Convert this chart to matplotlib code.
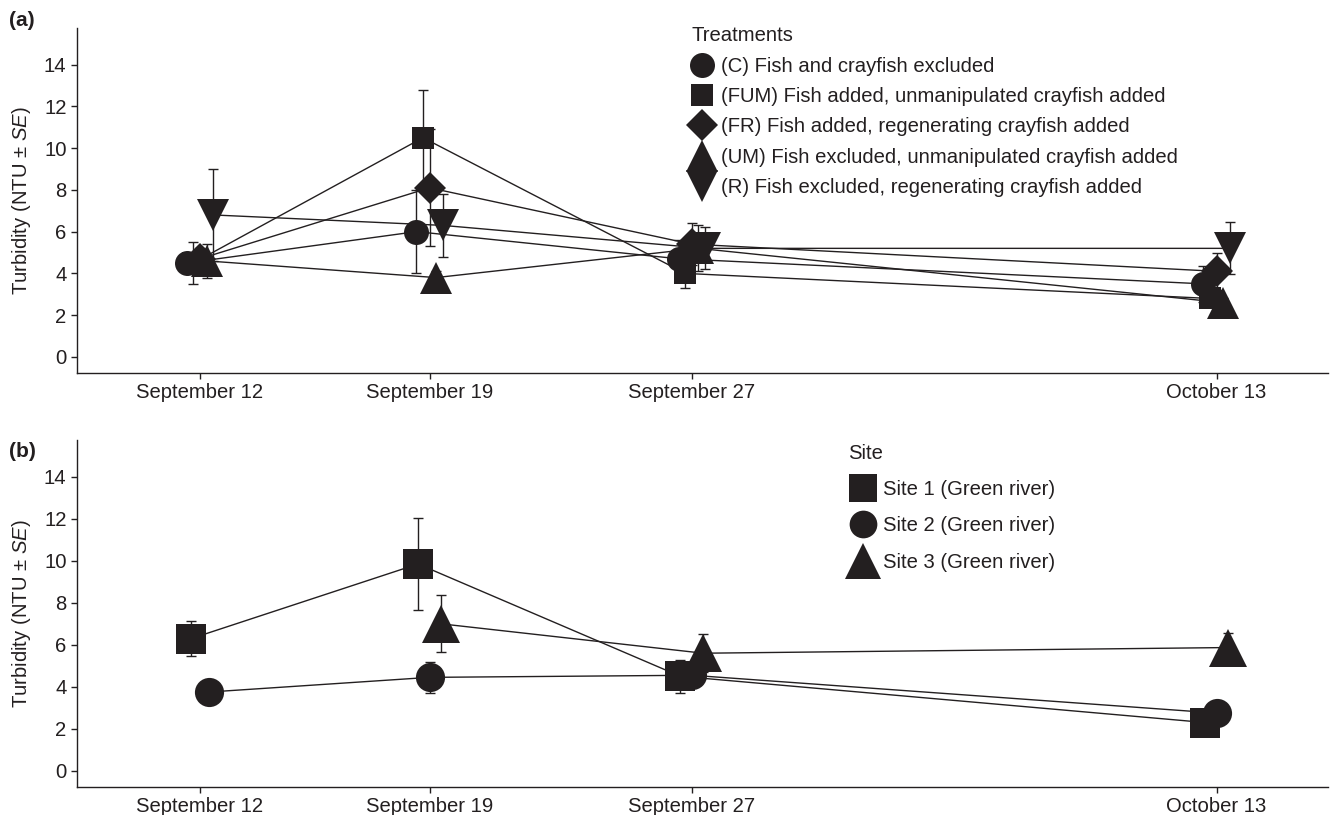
import numpy as np
import matplotlib
matplotlib.use("Agg")
import matplotlib.pyplot as plt

INK = "#231f20"
FS = 14.6

plt.rcParams["font.family"] = ["Liberation Sans", "DejaVu Sans"]
plt.rcParams["mathtext.fontset"] = "custom"
plt.rcParams["mathtext.rm"] = "Liberation Sans"
plt.rcParams["mathtext.it"] = "Liberation Sans:italic"

# sampling dates, as days after September 12
days = [0, 7, 15, 31]
date_labels = ["September 12", "September 19", "September 27", "October 13"]

# panel (a): treatments, mean turbidity and SE
treatments = ["(C) Fish and crayfish excluded",
              "(FUM) Fish added, unmanipulated crayfish added",
              "(FR) Fish added, regenerating crayfish added",
              "(UM) Fish excluded, unmanipulated crayfish added",
              "(R) Fish excluded, regenerating crayfish added"]
c_mean = [4.5, 6.0, 4.7, 3.5]
c_se = [0.5, 2.0, 0.9, 0.85]
fum_mean = [4.5, 10.5, 4.0, 2.8]
fum_se = [1.0, 2.3, 0.7, 0.3]
fr_mean = [4.7, 8.1, 5.4, 4.1]
fr_se = [0.5, 2.8, 1.0, 0.9]
um_mean = [4.6, 3.8, 5.2, 2.6]
um_se = [0.8, 0.3, 1.1, 0.2]
r_mean = [6.8, 6.3, 5.2, 5.2]
r_se = [2.2, 1.5, 1.0, 1.25]

# panel (b): sites
sites = ["Site 1 (Green river)", "Site 2 (Green river)", "Site 3 (Green river)"]
s1_mean = [6.3, 9.85, 4.5, 2.3]
s1_se = [0.85, 2.2, 0.8, 0.3]
s2_mean = [3.75, 4.45, 4.55, 2.75]
s2_se = [0.2, 0.75, 0.3, 0.2]
s3_mean = [np.nan, 7.0, 5.6, 5.87]
s3_se = [np.nan, 1.36, 0.9, 0.7]


def dodge_positions(means_list, width):
    # spread the groups present at each date, like ggplot position_dodge
    arr = np.array(means_list, dtype=float)
    pos = np.full(arr.shape, np.nan)
    for j in range(arr.shape[1]):
        present = [i for i in range(arr.shape[0]) if not np.isnan(arr[i, j])]
        n = len(present)
        for k, i in enumerate(present):
            pos[i, j] = days[j] + (k - (n - 1) / 2) * width / n
    return pos


def draw_panel(ax, means, ses, markers, sizes, labels, width):
    pos = dodge_positions(means, width)
    handles = []
    for i in range(len(means)):
        x = pos[i]
        y = np.array(means[i], dtype=float)
        ax.errorbar(x, y, yerr=ses[i], fmt="none", ecolor=INK, elinewidth=1.0,
                    capsize=3.6, capthick=1.0, zorder=1)
        ok = ~np.isnan(y)
        ax.plot(x[ok], y[ok], color=INK, lw=1.0, zorder=2)
        h, = ax.plot(x, y, ls="none", marker=markers[i], ms=sizes[i], color=INK,
                     mec=INK, mew=0, zorder=3, label=labels[i])
        handles.append(h)

    ax.set_xlim(-3.75, 34.4)
    ax.set_ylim(-0.77, 15.75)
    ax.set_xticks(days)
    ax.set_xticklabels(date_labels)
    ax.set_yticks(range(0, 15, 2))
    ax.spines["top"].set_visible(False)
    ax.spines["right"].set_visible(False)
    for s in ["left", "bottom"]:
        ax.spines[s].set_color(INK)
        ax.spines[s].set_linewidth(1.0)
    ax.tick_params(colors=INK, labelsize=FS, length=4, width=1.0)
    ax.set_ylabel("Turbidity (NTU ± $\\mathit{SE}$)", fontsize=FS, color=INK, labelpad=8)
    return handles


fig = plt.figure(figsize=(13.44, 8.15), dpi=100)
ax_a = fig.add_axes([0.0573, 0.5423, 0.9308, 0.4233])
ax_b = fig.add_axes([0.0573, 0.0344, 0.9308, 0.4256])

h_a = draw_panel(ax_a,
                 [c_mean, fum_mean, fr_mean, um_mean, r_mean],
                 [c_se, fum_se, fr_se, um_se, r_se],
                 ["o", "s", "D", "^", "v"], [18, 16.5, 16, 23, 23],
                 treatments, 1.0)
h_b = draw_panel(ax_b,
                 [s1_mean, s2_mean, s3_mean],
                 [s1_se, s2_se, s3_se],
                 ["s", "o", "^"], [21, 21, 28],
                 sites, 1.05)

leg_a = ax_a.legend(handles=h_a, title="Treatments", loc="upper left",
                    bbox_to_anchor=(0.491, 1.005), frameon=False, fontsize=FS,
                    title_fontsize=FS, alignment="left", borderpad=0,
                    borderaxespad=0, handlelength=1.1, handletextpad=0.35,
                    labelspacing=0.56, markerscale=1.0)
leg_b = ax_b.legend(handles=h_b, title="Site", loc="upper left",
                    bbox_to_anchor=(0.616, 0.99), frameon=False, fontsize=FS,
                    title_fontsize=FS, alignment="left", borderpad=0,
                    borderaxespad=0, handlelength=1.5, handletextpad=0.25,
                    labelspacing=0.86, markerscale=0.95)
for leg in (leg_a, leg_b):
    for t in leg.get_texts():
        t.set_color(INK)
    leg.get_title().set_color(INK)

fig.text(0.007, 0.975, "(a)", fontsize=15, fontweight="bold", color=INK, va="center")
fig.text(0.007, 0.446, "(b)", fontsize=15, fontweight="bold", color=INK, va="center")

fig.savefig("out.png", dpi=100)
